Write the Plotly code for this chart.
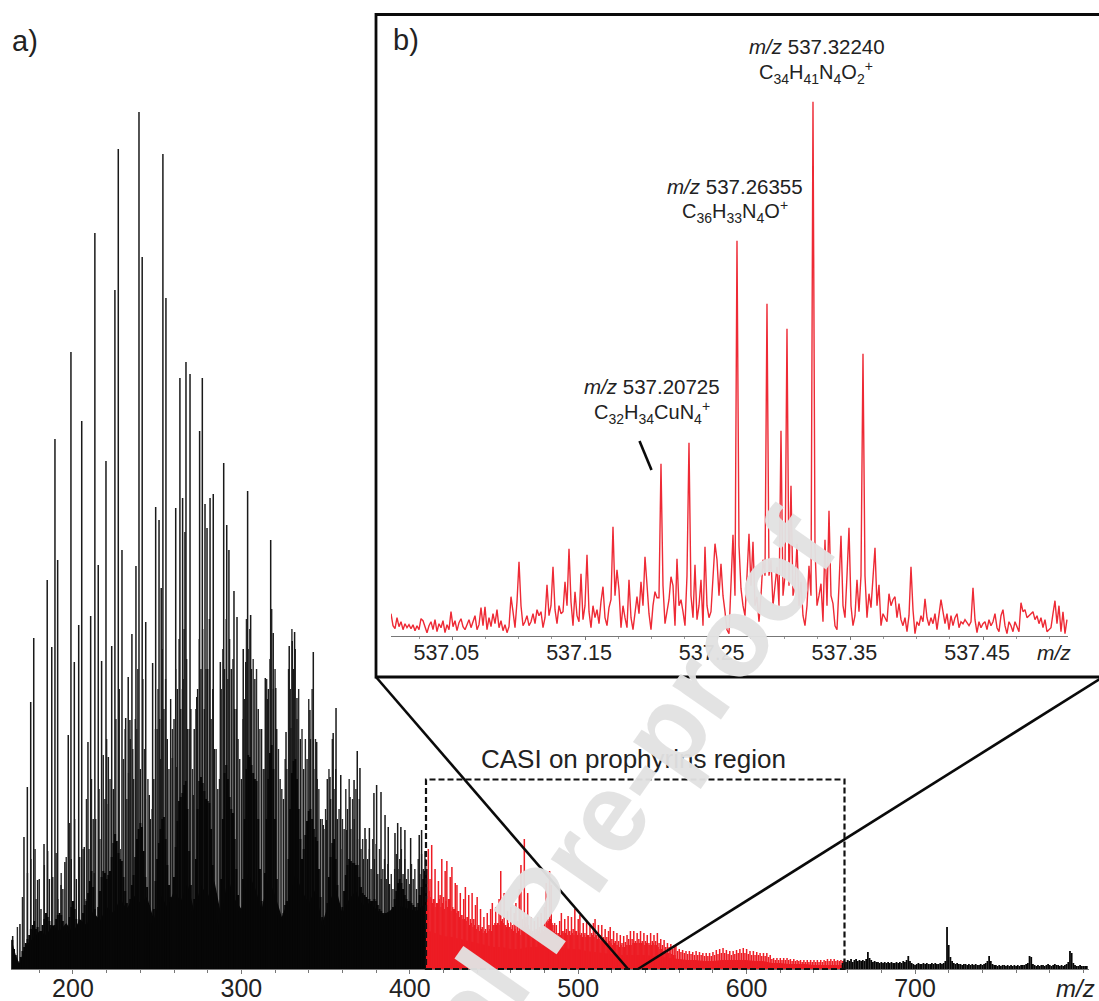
import plotly.graph_objects as go

W, H = 1099, 1001
def fx(p): return p / W
def fy(p): return 1 - p / H

# ---- panel a: broad spectrum (intensity in a.u.) ----
black_start = 164
black_dense = [29,20,14,8,6,12,18,22,26,30,34,40,44,48,40,42,36,38,44,50,56,52,48,44,42,44,50,54,56,54,48,42,38,36,52,62,68,60,50,42,38,46,56,64,68,76,88,98,82,60,52,62,78,92,98,96,90,94,98,112,126,135,128,116,110,108,92,78,66,62,70,84,94,112,130,140,146,142,118,92,82,64,46,40,60,88,110,126,140,150,152,130,104,84,72,68,92,122,148,168,172,176,184,188,160,118,84,58,70,110,160,188,192,186,178,170,168,166,140,104,72,50,46,44,90,150,196,204,190,172,160,156,130,100,74,58,56,90,150,200,214,212,204,196,190,188,150,100,68,56,96,150,190,216,224,200,150,90,54,48,50,56,64,68,110,160,196,208,210,190,160,130,110,120,134,148,158,160,150,140,132,128,100,72,52,44,44,66,92,112,126,130,110,84,60,50,62,78,94,104,110,108,106,106,104,104,92,82,76,74,72,70,70,68,68,70,68,64,60,58,56,56,56,56,56,56,62,70,78,86,90,86,80,74,70,68,68,66,64,62,62,66,74,82,90,98,100]
floor_mz = [163.5,166,168,170,172,176,180,184,188,192,196,200,204,208,212,216,220,224,228,232,236,240,244,248,252,256,260,264,268,272,276,280,284,288,292,296,300,304,308,312,316,320,324,328,332,336,340,344,348,352,356,360,364,368,372,376,380,384,388,392,396,400,404,408,410]
floor_int = [30,14,6,14,24,30,38,34,44,38,46,36,50,44,58,48,62,56,70,60,74,66,72,50,74,62,78,68,86,58,84,72,88,54,92,70,60,96,82,60,90,74,52,70,96,78,66,80,46,66,82,56,70,78,64,66,60,54,58,64,62,60,58,64,70]

mid_mz = [178,181,186,191,194,199,202,207,209.5,212,216,219,221,224,228,231,234,236,238,240,243,246,248,250,252,254,256,258,260,262,264,265.5,268,270,272,274,276,278,280,282,284,286,288,290,292,294,296,298,300,302,304,306,308,310,312,314,316,317,319,321,323,325,327,329,331,333,335,337,339,341,343,345,347,349,351,353,355,357,359,361,363,365,367,369,371,372.5,375,377,379,381,383,386,388,390,393,396,398,400,402,404,406,408,409.5]
mid_int = [70,60,90,70,80,110,90,70,120,150,130,170,165,180,120,240,230,190,240,200,170,150,190,240,210,260,230,270,250,280,260,290,240,260,240,280,300,260,300,250,220,180,280,300,290,300,260,230,190,270,320,300,290,260,240,200,280,310,280,240,190,170,200,280,300,250,230,200,210,230,200,190,150,140,190,170,180,150,120,140,160,140,150,130,120,110,110,100,110,95,90,90,85,80,100,95,90,85,90,80,95,100,110]

mid2_peaks = [(167,42),(170,72),(173,96),(175,110),(177.5,120),(180,90),(183,104),(185,118),(188,92),(190,116),(193,96),(196,112),(198,146),(201,150),(204,112),(206,120),(208,170),(211,190),(213.5,150),(215.5,180),(218,214),(220,230),(222,190),(225.5,250),(227.5,280),(230,210),(232,170),(233,196),(235.5,220),(237,250),(238.5,300),(241.5,290),(242.5,220),(244.5,190),(247,160),(249,240),(250.5,280),(251.5,250),(253,320),(255,290),(257,200),(259,240),(261,300),(263,330),(265,280),(266,340),(267.5,310),(269,240),(271,200),(273,260),(275,330),(277,340),(279,300),(281,350),(283,280),(285,220),(287,190),(289,320),(291,350),(293,330),(295,310),(297,260),(299,210),(301,250),(303,350),(305,340),(307,310),(309,300),(311,240),(313,200),(315,290),(317.5,340),(318,360),(320,300),(322,220),(324,180),(326,210),(328,300),(330,340),(332,320),(334,280),(336,240),(338,230),(340,270),(342,280),(344,230),(346,180),(348,150),(350,160),(352,200),(354,230),(356,200),(358,160),(360,150),(362,180),(364,190),(366,170),(368,180),(370,170),(372,130),(374,130),(376,120),(378,130),(380,125),(382,120),(384,100),(385,110),(387,105),(389,95),(391,100),(392,115),(394,110),(395,120),(397,110),(399,100),(401,105),(403,100),(405,110),(407,115),(409,118)]

tall_mz = [164.2,168.5,170.9,172.9,174.9,176.7,179,182.8,184.7,187.4,189.3,190.9,192.9,195.2,197.2,198.8,200.8,203.4,205.2,206.7,208.9,210.5,212.6,213,215,217,219.6,221,223,224.9,226.9,229.1,231.3,232.8,233.8,235,237.4,239.2,241.1,243.2,245.3,247.3,249.1,251.1,252.4,253.4,255.2,259,261,261.6,263.5,265.1,266.5,267.1,269.5,271.4,273.5,275.2,276.8,278.4,279.6,281.4,283.3,287.5,289.5,291.3,292.6,295.6,297.4,301.1,302.6,303.7,305.5,314.2,315.4,317.4,318.9,320.4,326.5,328.4,329.4,330.2,331.6,333,340.7,342.7,344.7,348.6,350.6,352.6,354.5,356.2,359,362.5,364.5,366.9,368.8,370.4,373.4,376,378.7,380.3,382.9,385.3,387.2,391.2,392.8,394.7,397.1,400.5,405.6,407]
tall_int = [33,45,132,182,267,331,89,125,389,322,530,409,84,107,234,617,307,344,548,122,227,353,96,736,404,308,508,212,323,679,820,419,251,292,249,335,403,857,712,347,174,306,462,449,381,815,671,211,461,202,591,471,437,607,595,174,272,538,591,465,441,471,475,307,506,444,419,378,352,320,307,478,354,291,270,429,336,281,237,323,241,328,337,271,259,317,227,144,149,192,236,261,194,139,172,189,218,201,141,141,176,184,177,154,142,136,146,142,139,131,134,139]

red_start = 410
red_comb = [60,120,90,124,70,100,66,88,74,110,72,98,108,70,92,102,60,86,84,58,76,54,70,82,52,74,50,76,50,64,72,44,60,42,52,40,56,44,60,66,44,62,46,70,98,50,76,44,58,42,62,44,56,66,48,80,104,50,130,52,76,40,52,38,48,40,52,42,56,44,62,86,50,98,84,44,46,44,36,48,56,38,50,40,53,38,52,40,60,38,50,54,36,46,36,48,34,44,36,46,50,34,44,34,44,32,40,32,38,42,30,38,28,36,28,34,26,33,27,34,30,38,30,38,28,36,30,38,28,36,28,34,26,36,28,34,28,36,26,30,24,29,22,26,22,25,20,24,24,18,20,17,19,16,18,15,18,15,17,14,18,14,17,14,16,13,16,13,16,13,17,14,19,15,20,16,21,16,19,15,18,14,18,15,19,16,20,16,21,16,20,15,18,14,18,14,17,14,16,13,16,13,16,12,14,10,11,9,11,9,11,9,11,9,11,9,10,8,10,8,9,8,9,7,9,7,9,7,9,7,9,7,9,7,9,7,9,8,10,8,10,8,10,8,9,8,9,8,9]
red_mid_start = 410.5
red_mid = [70,78,72,66,70,62,66,70,62,66,60,68,62,70,58,62,60,56,58,52,54,50,50,48,52,44,46,42,44,40,42,38,40,36,38,36,38,40,38,44,46,44,46,44,48,46,44,42,46,42,40,38,40,36,38,34,40,42,46,42,44,38,36,34,36,34,38,36,40,38,42,46,48,50,46,38,36,34,36,34,38,36,36,34,38,34,36,34,38,34,36,34,32,34,32,34,32,32,34,32,34,30,30,28,30,28,28,26,28,26,24,26,24,24,22,24,22,22,24,24,24,24,26,26,26,26,26,26,26,24,26,24,24,24,26,24,24,22,20,20,18,18,16,16,16,15,14,14]
red_base_mz = [410,415,420,425,430,435,440,445,450,455,460,465,470,475,480,485,490,495,500,505,510,515,520,525,530,535,540,545,550,555,560,565,570,575,580,585,590,595,600,605,610,615,620,625,630,635,640,645,650,655,657]
red_base_int = [39,36,33,32,30,28,26,24,22,22,20,20,22,22,24,24,22,20,20,18,17,16,15,14,14,14,14,13,12,11,10,9,9,8,8,9,9,9,9,8,8,6,6,5,5,5,4,4,4,4,4]

tail_start = 657
tail_int = [6,8,7,9,8,10,7,9,10,8,9,8,9,8,10,17,11,9,7,8,7,7,6,7,6,7,6,7,6,7,6,6,7,6,7,6,8,7,9,13,8,6,5,4,5,6,5,5,6,5,6,5,5,6,5,6,5,5,6,5,6,8,42,24,12,8,6,5,6,5,5,4,5,5,4,5,4,5,4,5,4,4,5,4,5,6,8,13,8,5,4,4,3,4,3,4,4,3,4,3,4,3,4,3,4,3,4,4,4,5,6,13,12,5,4,3,4,3,4,4,3,4,5,4,3,4,5,4,4,3,4,3,4,5,7,18,16,6,4,3,3,4,3,3,3,3]

# ---- panel b: zoom on m/z 537 ----
inset_start = 537.0038
inset_step = 0.0015072
inset_int = [
22,10,7,18,9,14,6,12,8,11,
7,11,5,10,6,17,15,8,3,10,
14,6,16,4,12,8,15,3,11,6,
24,9,15,5,13,17,9,6,12,16,
8,13,20,6,11,28,10,29,6,18,
9,22,12,26,8,15,5,11,3,9,
39,24,8,34,74,30,10,14,20,10,
14,22,12,26,20,24,8,18,51,20,
30,69,26,12,30,22,24,54,30,87,
34,10,44,20,14,62,16,30,81,24,
8,30,18,26,12,34,49,18,10,28,
36,109,40,66,46,8,30,18,8,56,
18,6,20,39,22,54,30,79,51,22,
6,30,44,38,38,172,50,12,24,36,
59,50,10,77,30,36,24,10,60,193,
40,18,71,16,30,56,10,89,30,18,
24,60,92,76,40,72,40,24,6,2,
60,101,40,395,90,47,30,20,60,102,
50,94,30,39,14,40,76,60,332,60,
76,30,50,69,30,205,40,60,307,50,
150,40,50,92,30,54,20,10,30,70,
40,534,90,30,40,52,14,96,30,125,
40,32,10,6,50,100,30,18,60,108,
30,10,20,56,24,60,282,60,18,42,
28,60,88,30,51,10,22,18,14,42,
30,36,39,18,32,16,10,18,4,20,
69,26,2,14,10,20,14,37,18,10,
18,12,22,6,20,36,24,12,22,6,
20,10,18,22,8,14,12,16,13,10,
14,48,16,3,14,8,12,14,6,16,
10,14,22,8,4,20,26,10,2,14,
10,4,14,8,4,33,24,26,18,20,
22,24,16,20,12,18,8,16,4,6,
8,22,35,12,30,4,24,2,16]

main_ticks = [200,300,400,500,600,700]
inset_ticks = [537.05,537.15,537.25,537.35,537.45]
inset_labels = ["537.05","537.15","537.25","537.35","537.45"]

BLACK = "#070707"
RED = "#ed1c24"

def sticks(xs, ys):
    X, Y = [], []
    for m, v in zip(xs, ys):
        X += [m, m, None]
        Y += [0, v, None]
    return X, Y

def seq(start, vals):
    return [start + i for i in range(len(vals))]

fig = go.Figure()
def add_sticks(xs, ys, color, width):
    X, Y = sticks(xs, ys)
    fig.add_trace(go.Scatter(x=X, y=Y, mode="lines", line=dict(color=color, width=width),
                             hoverinfo="skip", showlegend=False))

add_sticks(mid_mz, mid_int, "#1a1a1a", 1.4)
add_sticks([p[0] for p in mid2_peaks], [p[1] for p in mid2_peaks], "#2a2a2a", 1.4)
add_sticks(tall_mz, tall_int, "#1a1a1a", 1.5)
fig.add_trace(go.Scatter(x=floor_mz, y=floor_int, mode="lines", line=dict(color=BLACK, width=0),
                         fill="tozeroy", fillcolor=BLACK, hoverinfo="skip", showlegend=False))
add_sticks(seq(black_start, black_dense), black_dense, BLACK, 2)
fig.add_trace(go.Scatter(x=red_base_mz, y=red_base_int, mode="lines", line=dict(color=RED, width=0),
                         fill="tozeroy", fillcolor=RED, hoverinfo="skip", showlegend=False))
add_sticks(seq(red_mid_start, red_mid), red_mid, RED, 1.3)
add_sticks(seq(red_start, red_comb), red_comb, RED, 1.5)
add_sticks(seq(tail_start, tail_int), tail_int, BLACK, 1.8)

fig.add_trace(go.Scatter(x=[inset_start + i * inset_step for i in range(len(inset_int))], y=inset_int,
                         mode="lines", line=dict(color="#ee2a35", width=1.4), xaxis="x2", yaxis="y2",
                         hoverinfo="skip", showlegend=False))

FONT = "Liberation Sans, Arial, sans-serif"
TXT = "#222222"

shapes = [
    dict(type="rect", xref="paper", yref="paper", x0=fx(376), x1=fx(1110), y0=fy(677), y1=fy(14.5),
         line=dict(color="#0a0a0a", width=2.8)),
    dict(type="line", xref="paper", yref="paper", x0=fx(376), y0=fy(677), x1=fx(628), y1=fy(969),
         line=dict(color="#0a0a0a", width=2.6)),
    dict(type="line", xref="paper", yref="paper", x0=fx(1103), y0=fy(677), x1=fx(638), y1=fy(969),
         line=dict(color="#0a0a0a", width=2.6)),
    dict(type="rect", xref="paper", yref="paper", x0=fx(426), x1=fx(844.5), y0=fy(969), y1=fy(779.5),
         line=dict(color="#111111", width=2.2, dash="6px,3px")),
    dict(type="line", xref="paper", yref="paper", x0=fx(639.5), y0=fy(441), x1=fx(651.5), y1=fy(470),
         line=dict(color="#0a0a0a", width=2.6)),
]

def note(px, py, text, size, color=TXT):
    return dict(xref="paper", yref="paper", x=fx(px), y=fy(py), text=text, showarrow=False,
                font=dict(family=FONT, size=size, color=color), xanchor="center", yanchor="middle")

annotations = [
    note(25, 41, "a)", 29),
    note(406, 40, "b)", 29),
    note(633, 759, "CASI on prophyrins region", 26),
    note(1075, 988, "<i>m/z</i>", 24),
    note(1054, 652, "<i>m/z</i>", 21),
    note(816.5, 46, "<i>m/z</i> 537.32240", 20.5),
    note(816, 72, "C<sub>34</sub>H<sub>41</sub>N<sub>4</sub>O<sub>2</sub><sup>+</sup>", 20),
    note(735, 186, "<i>m/z</i> 537.26355", 20.5),
    note(735, 212, "C<sub>36</sub>H<sub>33</sub>N<sub>4</sub>O<sup>+</sup>", 20),
    note(652, 386, "<i>m/z</i> 537.20725", 20.5),
    note(652, 412, "C<sub>32</sub>H<sub>34</sub>CuN<sub>4</sub><sup>+</sup>", 20),
]
wm = note(540, 910, "<b>Journal Pre-proof</b>", 112, "rgba(226,226,226,0.96)")
wm["textangle"] = -55
annotations.append(wm)

fig.update_layout(
    width=W, height=H, autosize=False, margin=dict(l=0, r=0, t=0, b=0, autoexpand=False),
    paper_bgcolor="white", plot_bgcolor="rgba(0,0,0,0)", showlegend=False,
    shapes=shapes, annotations=annotations,
    xaxis=dict(domain=[fx(11), fx(1089)], range=[163.2, 803.3], anchor="y",
               tickmode="array", tickvals=main_ticks, ticks="outside", ticklen=4, tickcolor="#777777",
               tickfont=dict(family=FONT, size=25, color=TXT), ticklabelstandoff=-7,
               showgrid=False, zeroline=False,
               showline=True, linecolor="#777777", linewidth=1,
               minor=dict(dtick=20, tick0=0, ticks="outside", ticklen=3, tickcolor="#777777", showgrid=False)),
    yaxis=dict(domain=[fy(969), 1], range=[0, 969], visible=False),
    xaxis2=dict(domain=[fx(391), fx(1068)], range=[537.0038, 537.514], anchor="y2",
                tickmode="array", tickvals=inset_ticks, ticktext=inset_labels, ticks="outside", ticklen=3,
                tickcolor="#777777", tickfont=dict(family=FONT, size=21.5, color=TXT),
                ticklabelshift=-6, ticklabelstandoff=-6, showgrid=False, zeroline=False,
                showline=True, linecolor="#777777", linewidth=1,
                minor=dict(dtick=0.025, tick0=537, ticks="outside", ticklen=2, tickcolor="#999999", showgrid=False)),
    yaxis2=dict(domain=[fy(635.7), fy(14)], range=[0, 621.7], visible=False),
)

fig.write_html("out.html", config={"displayModeBar": False, "responsive": False},
               default_width="1099px", default_height="1001px",
               post_script="document.body.style.margin='0';document.body.style.overflow='hidden';")
